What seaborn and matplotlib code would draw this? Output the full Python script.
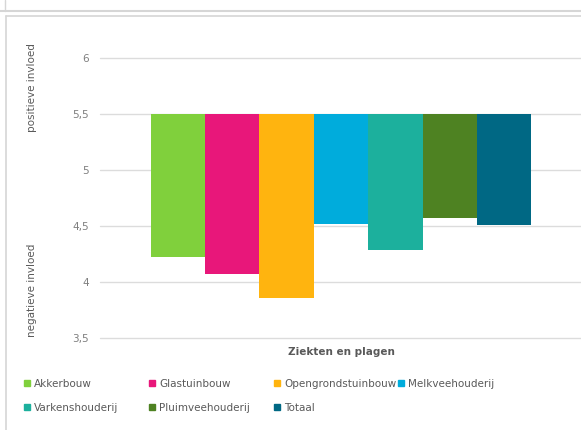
import seaborn as sns
import matplotlib.pyplot as plt
import pandas as pd
from matplotlib.lines import Line2D
from matplotlib.ticker import FuncFormatter

# data
sectors = ['Akkerbouw', 'Glastuinbouw', 'Opengrondstuinbouw', 'Melkveehouderij',
           'Varkenshouderij', 'Pluimveehouderij', 'Totaal']
scores = [4.22, 4.07, 3.86, 4.52, 4.29, 4.57, 4.51]
colors = ['#80d03c', '#e8177a', '#ffb40f', '#00acdc', '#1cb09d', '#4e8222', '#006884']
category = 'Ziekten en plagen'
neutral = 5.5
y_ticks = [3.5, 4, 4.5, 5, 5.5, 6]

df = pd.DataFrame({'categorie': category, 'sector': sectors, 'score': scores})
df['afwijking'] = df['score'] - neutral

sns.set_style('white')
plt.rcParams['font.family'] = ['DejaVu Sans']

fig = plt.figure(figsize=(5.81, 4.30), dpi=100)
ax = fig.add_axes([100 / 581, 1 - 338 / 430, 482 / 581, 280 / 430])

sns.barplot(data=df, x='categorie', y='afwijking', hue='sector', hue_order=sectors,
            palette=colors, saturation=1, bottom=neutral, width=0.79, gap=0,
            linewidth=0, legend=False, ax=ax)

ax.set_ylim(3.5, 6)
ax.set_xlim(-0.5, 0.5)
ax.set_yticks(y_ticks)
ax.yaxis.set_major_formatter(FuncFormatter(lambda v, p: ('%g' % v).replace('.', ',')))
ax.tick_params(axis='y', length=0, pad=8, labelsize=7.5, labelcolor='#7f7f7f')
ax.tick_params(axis='x', length=0, labelbottom=False)
ax.grid(axis='y', color='#dcdcdc', linewidth=1)
for gl in ax.get_ygridlines():
    gl.set_clip_on(False)
ax.set_axisbelow(True)
for s in ax.spines.values():
    s.set_visible(False)
ax.set_ylabel('')
ax.set_xlabel('')

fig.text(341 / 581, 1 - 352 / 430, category, ha='center', va='center',
         fontsize=7.5, fontweight='bold', color='#595959')
fig.text(32 / 581, 1 - 88 / 430, 'positieve invloed', rotation=90, ha='center',
         va='center', fontsize=7.5, color='#595959')
fig.text(32 / 581, 1 - 290 / 430, 'negatieve invloed', rotation=90, ha='center',
         va='center', fontsize=7.5, color='#595959')

# legend laid out as 4 equal-width columns, two rows (one small legend per column)
col_x = [24, 149, 274, 398]
for c, x in enumerate(col_x):
    idx = [i for i in (c, c + 4) if i < len(sectors)]
    handles = [Line2D([], [], marker='s', linestyle='', markersize=5, color=colors[i]) for i in idx]
    fig.legend(handles, [sectors[i] for i in idx], loc='upper left',
               bbox_to_anchor=(x / 581, 1 - 379 / 430), frameon=False, fontsize=7.5,
               labelcolor='#595959', handlelength=0.6, handletextpad=0.35,
               labelspacing=1.35, borderpad=0, borderaxespad=0)

# page panel borders
fig.add_artist(Line2D([0, 1], [1 - 11 / 430] * 2, color='#d6d6d6', linewidth=1.5))
fig.add_artist(Line2D([5 / 581] * 2, [1, 1 - 11 / 430], color='#d6d6d6', linewidth=1))
fig.add_artist(Line2D([6 / 581, 1], [1 - 16 / 430] * 2, color='#d6d6d6', linewidth=1.2))
fig.add_artist(Line2D([6 / 581] * 2, [1 - 16 / 430, 0], color='#d6d6d6', linewidth=1.2))

fig.savefig('out.png', dpi=100)
